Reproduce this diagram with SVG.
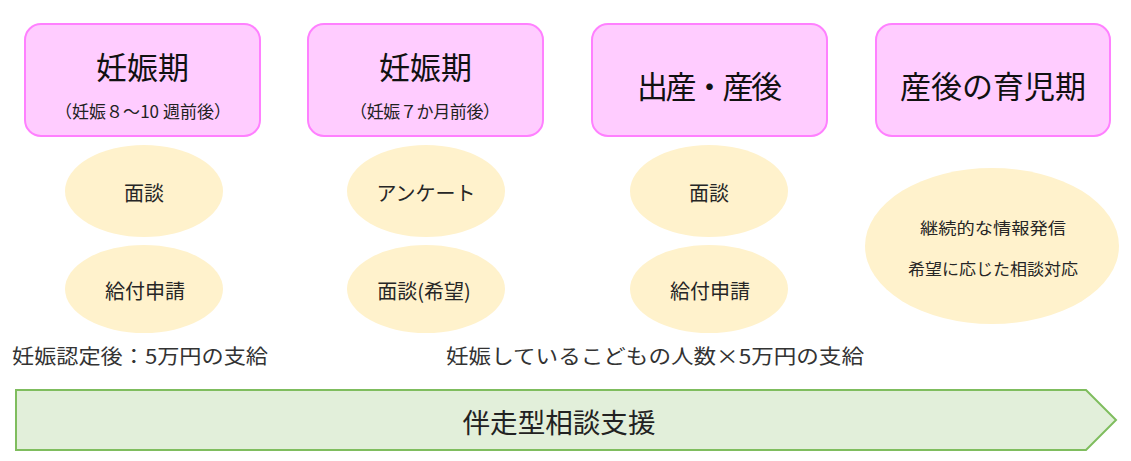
<svg xmlns="http://www.w3.org/2000/svg" width="1131" height="461" viewBox="0 0 1131 461">
<style>
text{font-family:"Noto Sans CJK JP","Noto Sans",sans-serif;text-anchor:middle;dominant-baseline:central}
.box{fill:#ffccff;stroke:#ff80ff;stroke-width:2}
.ell{fill:#fff2cc}
.t{font-size:31px;fill:#111}
.s{font-size:17px;fill:#222}
.e{font-size:20px;fill:#262626}
.e2{font-size:16px;fill:#262626}
.b{font-size:20px;fill:#333}
.arrow{fill:#e2efda;stroke:#7fbd5e;stroke-width:2}
</style>
<g id="phase1">
<rect class="box" x="25" y="24" width="235" height="112" rx="16"/>
<text class="t" x="142.5" y="65">妊娠期</text>
<text class="s" x="143" y="110" textLength="176" lengthAdjust="spacing">（妊娠８～10 週前後）</text>
</g>
<g id="phase2">
<rect class="box" x="308" y="24" width="235" height="112" rx="16"/>
<text class="t" x="425.5" y="65">妊娠期</text>
<text class="s" x="425" y="110" textLength="150" lengthAdjust="spacing">（妊娠７か月前後）</text>
</g>
<g id="phase3">
<rect class="box" x="592" y="24" width="235" height="112" rx="16"/>
<text class="t" x="709.5" y="84" textLength="145" lengthAdjust="spacing">出産・産後</text>
</g>
<g id="phase4">
<rect class="box" x="876" y="24" width="234" height="112" rx="16"/>
<text class="t" x="993" y="84">産後の育児期</text>
</g>
<g id="p1-mendan">
<ellipse class="ell" cx="144" cy="191" rx="79" ry="46"/>
<text class="e" x="144" y="192">面談</text>
</g>
<g id="p1-kyufu">
<ellipse class="ell" cx="144" cy="289" rx="79" ry="44"/>
<text class="e" x="145" y="290">給付申請</text>
</g>
<g id="p2-enquete">
<ellipse class="ell" cx="426" cy="191" rx="79" ry="46"/>
<text class="e" x="426" y="192">アンケート</text>
</g>
<g id="p2-mendan">
<ellipse class="ell" cx="426" cy="289" rx="79" ry="44"/>
<text class="e" x="424" y="290">面談(希望)</text>
</g>
<g id="p3-mendan">
<ellipse class="ell" cx="709" cy="191" rx="79" ry="46"/>
<text class="e" x="709" y="192">面談</text>
</g>
<g id="p3-kyufu">
<ellipse class="ell" cx="709" cy="289" rx="79" ry="44"/>
<text class="e" x="710" y="290">給付申請</text>
</g>
<g id="p4-info">
<ellipse class="ell" cx="992" cy="246" rx="127" ry="78"/>
<text class="e2" x="993" y="227" textLength="146" lengthAdjust="spacingAndGlyphs">継続的な情報発信</text>
<text class="e2" x="993" y="268" textLength="170" lengthAdjust="spacingAndGlyphs">希望に応じた相談対応</text>
</g>
<g id="notes">
<text class="b" x="140" y="355" textLength="256" lengthAdjust="spacingAndGlyphs">妊娠認定後：5万円の支給</text>
<text class="b" x="655" y="355" textLength="418" lengthAdjust="spacingAndGlyphs">妊娠しているこどもの人数×5万円の支給</text>
</g>
<g id="support">
<polygon class="arrow" points="16,390 1086,390 1116,420 1086,450 16,450"/>
<text x="559" y="421" style="font-size:27px;fill:#222" textLength="193" lengthAdjust="spacingAndGlyphs">伴走型相談支援</text>
</g>
<g id="connectors"></g>
</svg>
